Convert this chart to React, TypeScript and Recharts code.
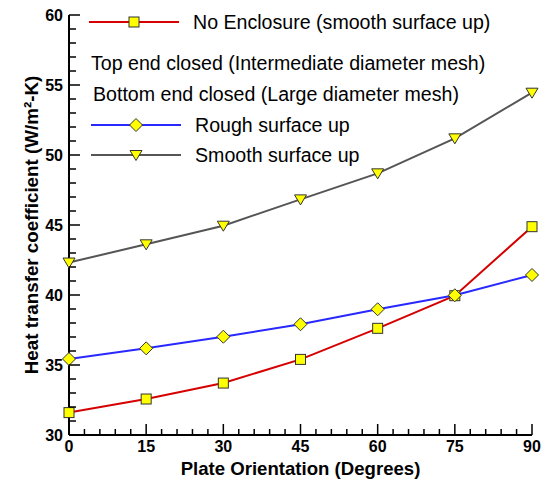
import { Label, Line, LineChart, XAxis, YAxis } from 'recharts'

const DEGREES = [0, 15, 30, 45, 60, 75, 90]
const NO_ENCLOSURE = [31.6, 32.57, 33.71, 35.4, 37.62, 39.95, 44.88]
const ROUGH_UP = [35.43, 36.19, 37.02, 37.91, 38.98, 39.98, 41.43]
const SMOOTH_UP = [42.32, 43.62, 44.95, 46.83, 48.69, 51.19, 54.45]

const X_TICKS = [
  0, 3, 6, 9, 12, 15, 18, 21, 24, 27, 30, 33, 36, 39, 42, 45, 48, 51, 54, 57, 60, 63, 66, 69, 72, 75,
  78, 81, 84, 87, 90,
]
const X_LABELS = [0, 15, 30, 45, 60, 75, 90]
const Y_TICKS = [
  30, 31, 32, 33, 34, 35, 36, 37, 38, 39, 40, 41, 42, 43, 44, 45, 46, 47, 48, 49, 50, 51, 52, 53, 54,
  55, 56, 57, 58, 59, 60,
]
const Y_LABELS = [30, 35, 40, 45, 50, 55, 60]

const LEGEND_MAIN = 'No Enclosure (smooth surface up)'
const LEGEND_TOP = 'Top end closed (Intermediate diameter mesh)'
const LEGEND_BOTTOM = 'Bottom end closed (Large diameter mesh)'
const LEGEND_ROUGH = 'Rough surface up'
const LEGEND_SMOOTH = 'Smooth surface up'

const RED = '#d60000'
const BLUE = '#2828ff'
const GRAY = '#555555'
const MARK_FILL = '#ffff00'
const MARK_STROKE = '#333333'
const FONT = '"Liberation Sans", Arial, sans-serif'

const data = DEGREES.map((deg, i) => ({
  deg,
  none: NO_ENCLOSURE[i],
  rough: ROUGH_UP[i],
  smooth: SMOOTH_UP[i],
}))

function Square({ cx, cy }: { cx: number; cy: number }) {
  return (
    <rect x={cx - 5} y={cy - 5} width={10} height={10} fill={MARK_FILL} stroke={MARK_STROKE} strokeWidth={1} />
  )
}

function Diamond({ cx, cy }: { cx: number; cy: number }) {
  const r = 6.5
  return (
    <polygon
      points={`${cx},${cy - r} ${cx + r},${cy} ${cx},${cy + r} ${cx - r},${cy}`}
      fill={MARK_FILL}
      stroke={MARK_STROKE}
      strokeWidth={1}
    />
  )
}

function Triangle({ cx, cy }: { cx: number; cy: number }) {
  return (
    <polygon
      points={`${cx - 6},${cy - 4.5} ${cx + 6},${cy - 4.5} ${cx},${cy + 5.5}`}
      fill={MARK_FILL}
      stroke={MARK_STROKE}
      strokeWidth={1}
    />
  )
}

function XTick({ x, y, payload }: any) {
  const major = X_LABELS.includes(payload.value)
  return (
    <g>
      <line x1={x} x2={x} y1={y} y2={y - (major ? 11 : 6)} stroke="#000" strokeWidth={1.5} />
      {major && (
        <text x={x} y={y + 17} textAnchor="middle" fontSize={16} fontWeight="bold" fill="#000">
          {payload.value}
        </text>
      )}
    </g>
  )
}

function YTick({ x, y, payload }: any) {
  const major = Y_LABELS.includes(payload.value)
  return (
    <g>
      <line x1={x} x2={x + (major ? 11 : 7)} y1={y} y2={y} stroke="#000" strokeWidth={1.5} />
      {major && (
        <text x={x - 6} y={y + 6} textAnchor="end" fontSize={16} fontWeight="bold" fill="#000">
          {payload.value}
        </text>
      )}
    </g>
  )
}

function LegendOverlay() {
  return (
    <svg
      width={548}
      height={482}
      style={{ position: 'absolute', left: 0, top: 0, pointerEvents: 'none' }}
      fontFamily={FONT}
      fontSize={19.6}
    >
      <line x1={89} x2={179} y1={22} y2={22} stroke={RED} strokeWidth={2} />
      <Square cx={134} cy={22} />
      <text x={193} y={29}>{LEGEND_MAIN}</text>
      <text x={91} y={70}>{LEGEND_TOP}</text>
      <text x={93} y={101}>{LEGEND_BOTTOM}</text>
      <line x1={91} x2={181} y1={125} y2={125} stroke={BLUE} strokeWidth={2} />
      <Diamond cx={136} cy={125} />
      <text x={195} y={132}>{LEGEND_ROUGH}</text>
      <line x1={91} x2={181} y1={155} y2={155} stroke={GRAY} strokeWidth={2} />
      <Triangle cx={136} cy={155} />
      <text x={195} y={162}>{LEGEND_SMOOTH}</text>
    </svg>
  )
}

export default function App() {
  return (
    <div style={{ position: 'absolute', left: 0, top: 0, width: 548, height: 482, fontFamily: FONT }}>
      <LineChart width={548} height={482} data={data} margin={{ top: 15, right: 16, bottom: 0, left: 0 }}>
        <XAxis
          dataKey="deg"
          type="number"
          domain={[0, 90]}
          ticks={X_TICKS}
          interval={0}
          height={47}
          tickSize={0}
          tickMargin={0}
          tickLine={false}
          tick={<XTick />}
          axisLine={{ stroke: '#000', strokeWidth: 2 }}
        >
          <Label
            value="Plate Orientation (Degrees)"
            position="insideBottom"
            offset={7}
            style={{ fontSize: 18.6, fontWeight: 'bold', fill: '#000' }}
          />
        </XAxis>
        <YAxis
          type="number"
          domain={[30, 60]}
          ticks={Y_TICKS}
          interval={0}
          width={69}
          tickSize={0}
          tickMargin={0}
          tickLine={false}
          tick={<YTick />}
          axisLine={{ stroke: '#000', strokeWidth: 2 }}
        >
          <Label
            value="Heat transfer coefficient (W/m²-K)"
            angle={-90}
            position="insideLeft"
            offset={31}
            style={{ fontSize: 18.8, fontWeight: 'bold', fill: '#000', textAnchor: 'middle' }}
          />
        </YAxis>
        <Line
          dataKey="none"
          stroke={RED}
          strokeWidth={2}
          isAnimationActive={false}
          activeDot={false}
          dot={(p: any) => <Square key={`n-${p.index}`} cx={p.cx} cy={p.cy} />}
        />
        <Line
          dataKey="rough"
          stroke={BLUE}
          strokeWidth={2}
          isAnimationActive={false}
          activeDot={false}
          dot={(p: any) => <Diamond key={`r-${p.index}`} cx={p.cx} cy={p.cy} />}
        />
        <Line
          dataKey="smooth"
          stroke={GRAY}
          strokeWidth={2}
          isAnimationActive={false}
          activeDot={false}
          dot={(p: any) => <Triangle key={`s-${p.index}`} cx={p.cx} cy={p.cy} />}
        />
      </LineChart>
      <LegendOverlay />
    </div>
  )
}
